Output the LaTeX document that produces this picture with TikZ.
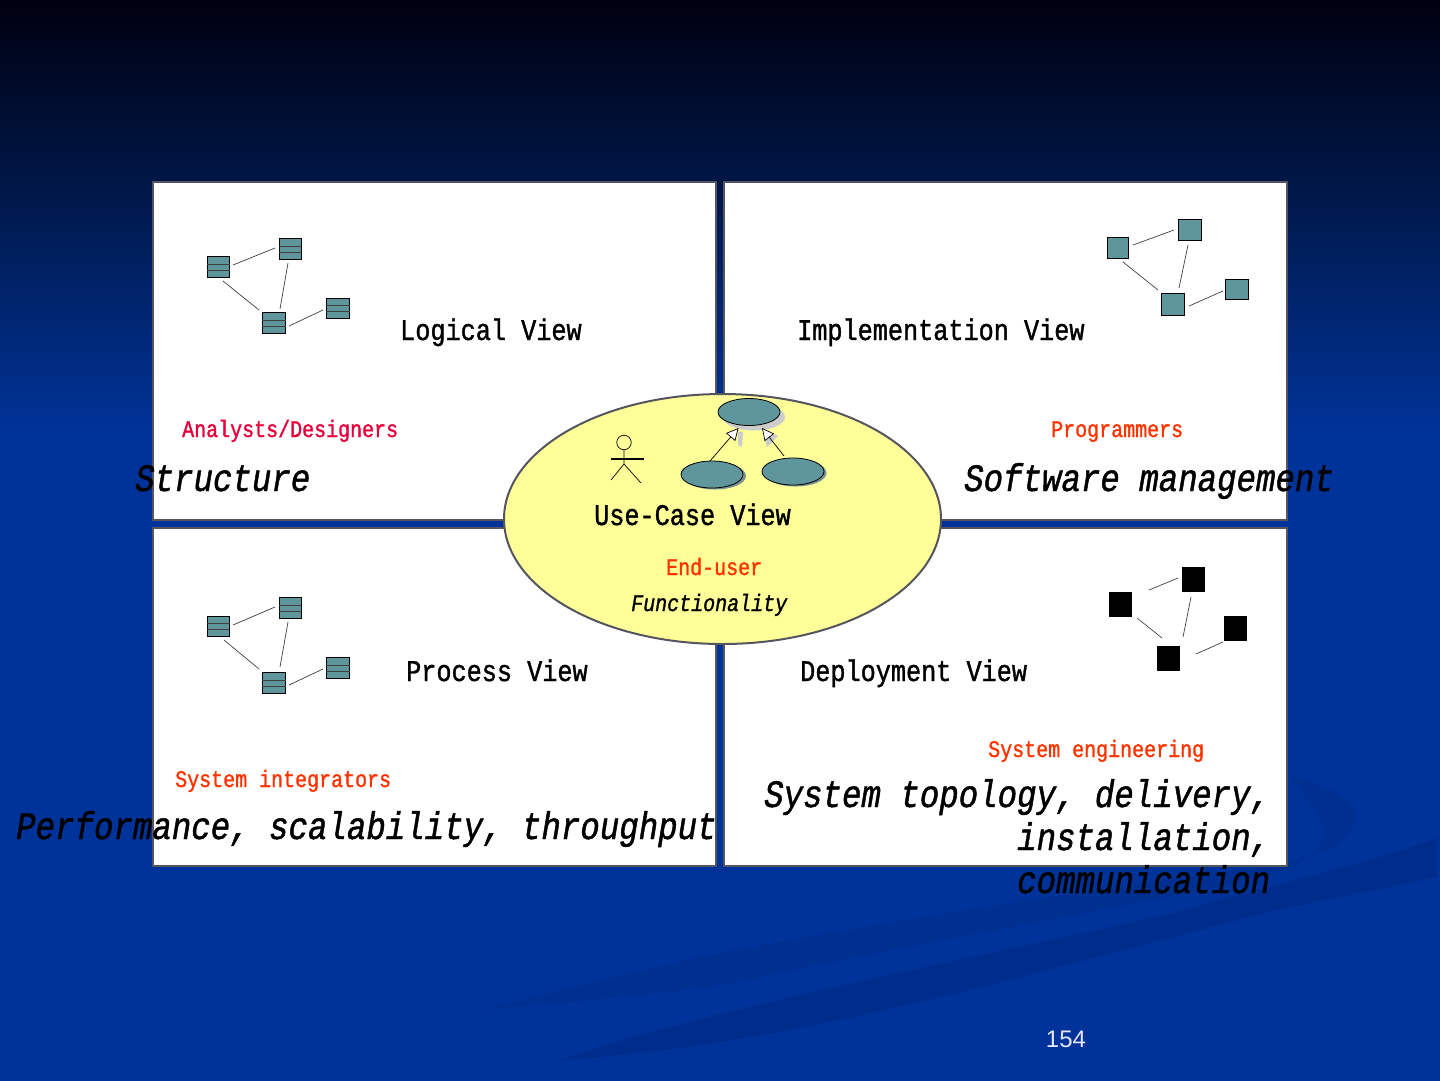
\documentclass[tikz,border=0pt]{standalone}
\usepackage{fontspec}
\setmainfont{Liberation Sans}
\newfontfamily\monoA[FakeStretch=0.84,FakeBold=1.2]{Liberation Mono}
\usetikzlibrary{arrows.meta,shapes.geometric}
\definecolor{bgblue}{RGB}{0,51,153}
\definecolor{bgtop}{RGB}{0,0,16}
\definecolor{bgmid}{RGB}{0,25,76}
\definecolor{swoosh}{RGB}{0,45,140}
\definecolor{swooshB}{RGB}{0,47,146}
\definecolor{teal}{RGB}{95,150,155}
\definecolor{usecasey}{RGB}{255,255,153}
\definecolor{redA}{RGB}{255,51,0}
\definecolor{pinkA}{RGB}{230,0,60}
\definecolor{edge}{RGB}{85,85,95}
\pgfdeclareverticalshading{bgshade}{100bp}{color(0bp)=(bgblue);color(55bp)=(bgblue);color(65.7bp)=(bgmid);color(75bp)=(bgtop);color(100bp)=(bgtop)}
\tikzset{
 x=1pt,y=-1pt,
 panel/.style={draw=edge,line width=2pt,fill=white,rectangle},
 viewt/.style={anchor=base west,inner sep=0pt,font=\monoA\fontsize{30}{30}\selectfont,text=black},
 roleT/.style={anchor=base west,inner sep=0pt,font=\monoA\fontsize{23.8}{24}\selectfont,text=redA},
 qualT/.style={anchor=base west,inner sep=0pt,font=\monoA\itshape\fontsize{38.6}{38}\selectfont,text=black},
 box/.style={draw=black,line width=1.1pt,fill=teal,rectangle,inner sep=0pt},
 blackbox/.style={fill=black,rectangle,inner sep=0pt},
 link/.style={draw=black!75,line width=.7pt},
 uc/.style={draw=black,line width=.8pt,fill=teal,ellipse,inner sep=0pt,minimum width=62pt,minimum height=27pt},
 genarrow/.style={line width=.7pt,-{Triangle[open,fill=white,length=12pt,width=12pt]}},
}
\newcommand{\classbox}[4]{%
 \node[box,minimum width=#3pt,minimum height=#4pt] (#1) at #2 {};
 \draw[black!75,line width=.6pt] ([yshift=-3pt]#1.west)--([yshift=-3pt]#1.east) ([yshift=3pt]#1.west)--([yshift=3pt]#1.east);
}
\begin{document}
\begin{tikzpicture}
\useasboundingbox (0,0) rectangle (1440,1080);
\shade[shading=bgshade] (0,0) rectangle (1440,1080);
% background swooshes
\fill[swoosh] (560,1060) .. controls (700,1010) and (980,957) .. (1172,913) .. controls (1290,880) and (1380,860) .. (1437,838) -- (1437,877) .. controls (1380,890) and (1320,900) .. (1266,913) .. controls (1030,973) and (800,1045) .. (560,1060) -- cycle;
\fill[swooshB] (1290,775) .. controls (1340,790) and (1362,805) .. (1355,822) .. controls (1345,845) and (1320,855) .. (1304,858) .. controls (1200,880) and (1050,890) .. (700,957) .. controls (600,980) and (520,1000) .. (480,1010) .. controls (600,1000) and (700,990) .. (747,980) .. controls (900,945) and (1150,905) .. (1285,870) .. controls (1320,855) and (1330,835) .. (1320,820) .. controls (1312,805) and (1300,790) .. (1290,775) -- cycle;
% panels
\node[panel,minimum width=563pt,minimum height=338pt] (pLog) at (434.5,351) {};
\node[panel,minimum width=563pt,minimum height=338pt] (pImp) at (1005.5,351) {};
\node[panel,minimum width=563pt,minimum height=338pt] (pPro) at (434.5,697) {};
\node[panel,minimum width=563pt,minimum height=338pt] (pDep) at (1005.5,697) {};
% central ellipse
\node[ellipse,draw=edge,line width=2pt,fill=usecasey,minimum width=437pt,minimum height=250pt,inner sep=0pt] (ell) at (722.5,519) {};
% Logical icon
\classbox{la}{(218.5,267)}{22}{21}
\classbox{lb}{(290.5,249)}{22}{21}
\classbox{lc}{(274,323)}{23}{21}
\classbox{ld}{(338,308.5)}{23}{20}
\coordinate (la1) at (233,265); \coordinate (lb1) at (275,248);
\coordinate (la2) at (223,281); \coordinate (lc2) at (259,310);
\coordinate (lb2) at (288,263); \coordinate (lc3) at (280,309);
\coordinate (lc4) at (289,326); \coordinate (ld1) at (323,310);
\draw[link] (la1)--(lb1) (la2)--(lc2) (lb2)--(lc3) (lc4)--(ld1);
% Implementation icon
\node[box,minimum width=21pt,minimum height=21pt] (ia) at (1118,248) {};
\node[box,minimum width=23pt,minimum height=21pt] (ib) at (1190,230) {};
\node[box,minimum width=23pt,minimum height=22pt] (ic) at (1173,304.500) {};
\node[box,minimum width=23pt,minimum height=20pt] (id) at (1237,289.500) {};
\coordinate (ia1) at (1133,245); \coordinate (ib1) at (1174,230);
\coordinate (ia2) at (1123,262); \coordinate (ic2) at (1158,290);
\coordinate (ib2) at (1188,245); \coordinate (ic3) at (1179,288);
\coordinate (ic4) at (1189,306); \coordinate (id1) at (1223,291);
\draw[link] (ia1)--(ib1) (ia2)--(ic2) (ib2)--(ic3) (ic4)--(id1);
% Process icon
\classbox{pa}{(218.5,626.5)}{22}{20}
\classbox{pb}{(290.5,608)}{22}{21}
\classbox{pc}{(274,683)}{23}{21}
\classbox{pd}{(338,668)}{23}{21}
\coordinate (pa1) at (233,625); \coordinate (pb1) at (275,607);
\coordinate (pa2) at (224,640); \coordinate (pc2) at (259,669);
\coordinate (pb2) at (288,622); \coordinate (pc3) at (280,667);
\coordinate (pc4) at (289,685); \coordinate (pd1) at (323,669);
\draw[link] (pa1)--(pb1) (pa2)--(pc2) (pb2)--(pc3) (pc4)--(pd1);
% Deployment icon
\node[blackbox,minimum width=23pt,minimum height=25pt] (da) at (1120,604) {};
\node[blackbox,minimum width=23pt,minimum height=25pt] (db) at (1193.5,579.5) {};
\node[blackbox,minimum width=23pt,minimum height=25pt] (dc) at (1168.5,658.5) {};
\node[blackbox,minimum width=23pt,minimum height=25pt] (dd) at (1235,628) {};
\coordinate (da1) at (1149,590); \coordinate (db1) at (1178,578);
\coordinate (da2) at (1137,618); \coordinate (dc2) at (1162,638);
\coordinate (db2) at (1191,597); \coordinate (dc3) at (1183,637);
\coordinate (dc4) at (1196,654); \coordinate (dd1) at (1223,642);
\draw[link] (da1)--(db1) (da2)--(dc2) (db2)--(dc3) (dc4)--(dd1);
% Use-case icon
\fill[black!20] (754,417) ellipse (31 and 13.5);
\fill[black!20] (738,432) -- (743,432) -- (742,447) -- (738,445) -- cycle;
\fill[black!20] (767,447) -- (778,436) -- (771,433) -- (765,440) -- cycle;
\node[uc] (ucTop) at (749,412) {};
\fill[black!35!teal!70] (715,476) ellipse (31 and 13.5);
\node[uc] (ucL) at (712,474.500) {};
\fill[black!35!teal!70] (795.500,473) ellipse (31 and 13.5);
\node[uc] (ucR) at (793,471.500) {};
\coordinate (ucLa) at (710,461);
\coordinate (ucRa) at (784,456);
\coordinate (ucTl) at (738.500,428);
\coordinate (ucTr) at (762,428);
\draw[genarrow] (ucLa)--(ucTl);
\draw[genarrow] (ucRa)--(ucTr);
% actor
\node[circle,draw=black,line width=.7pt,fill=usecasey,minimum size=14.5pt,inner sep=0pt] (head) at (624,442.500) {};
\coordinate (hip) at (624,464);
\coordinate (armL) at (611,459); \coordinate (armR) at (644,459);
\coordinate (footL) at (611,480); \coordinate (footR) at (641,483);
\draw[line width=.7pt] (head)--(hip) (hip)--(footL) (hip)--(footR);
\draw[line width=1.3pt] (armL)--(armR);
% titles
\node[viewt] (tLog) at (400,340) {Logical View};
\node[viewt] (tImp) at (797,340) {Implementation View};
\node[viewt] (tUse) at (594,525) {Use-Case View};
\node[viewt] (tPro) at (406,681) {Process View};
\node[viewt] (tDep) at (800,681) {Deployment View};
% roles
\node[roleT,text=pinkA] (rAna) at (182,437) {Analysts/Designers};
\node[roleT] (rPro) at (1051,437) {Programmers};
\node[roleT] (rEnd) at (666,575) {End-user};
\node[roleT] (rEng) at (988,757) {System engineering};
\node[roleT] (rInt) at (175,787) {System integrators};
% qualities
\node[qualT] (qStr) at (135,491) {Structure};
\node[qualT] (qSof) at (964,491) {Software management};
\node[qualT] (qPer) at (16,839) {Performance, scalability, throughput};
\node[qualT] (qSy1) at (764,807) {System topology, delivery,};
\node[qualT] (qSy2) at (1017,850) {installation,};
\node[qualT] (qSy3) at (1017,893) {communication};
\node[anchor=base west,inner sep=0pt,font=\monoA\itshape\fontsize{23.8}{24}\selectfont] (qFun) at (631,611) {Functionality};
% page number
\node[anchor=base,inner sep=0pt,text=white!90!blue,font=\fontsize{24}{24}\selectfont] (pg) at (1066,1047) {154};
\end{tikzpicture}
\end{document}
